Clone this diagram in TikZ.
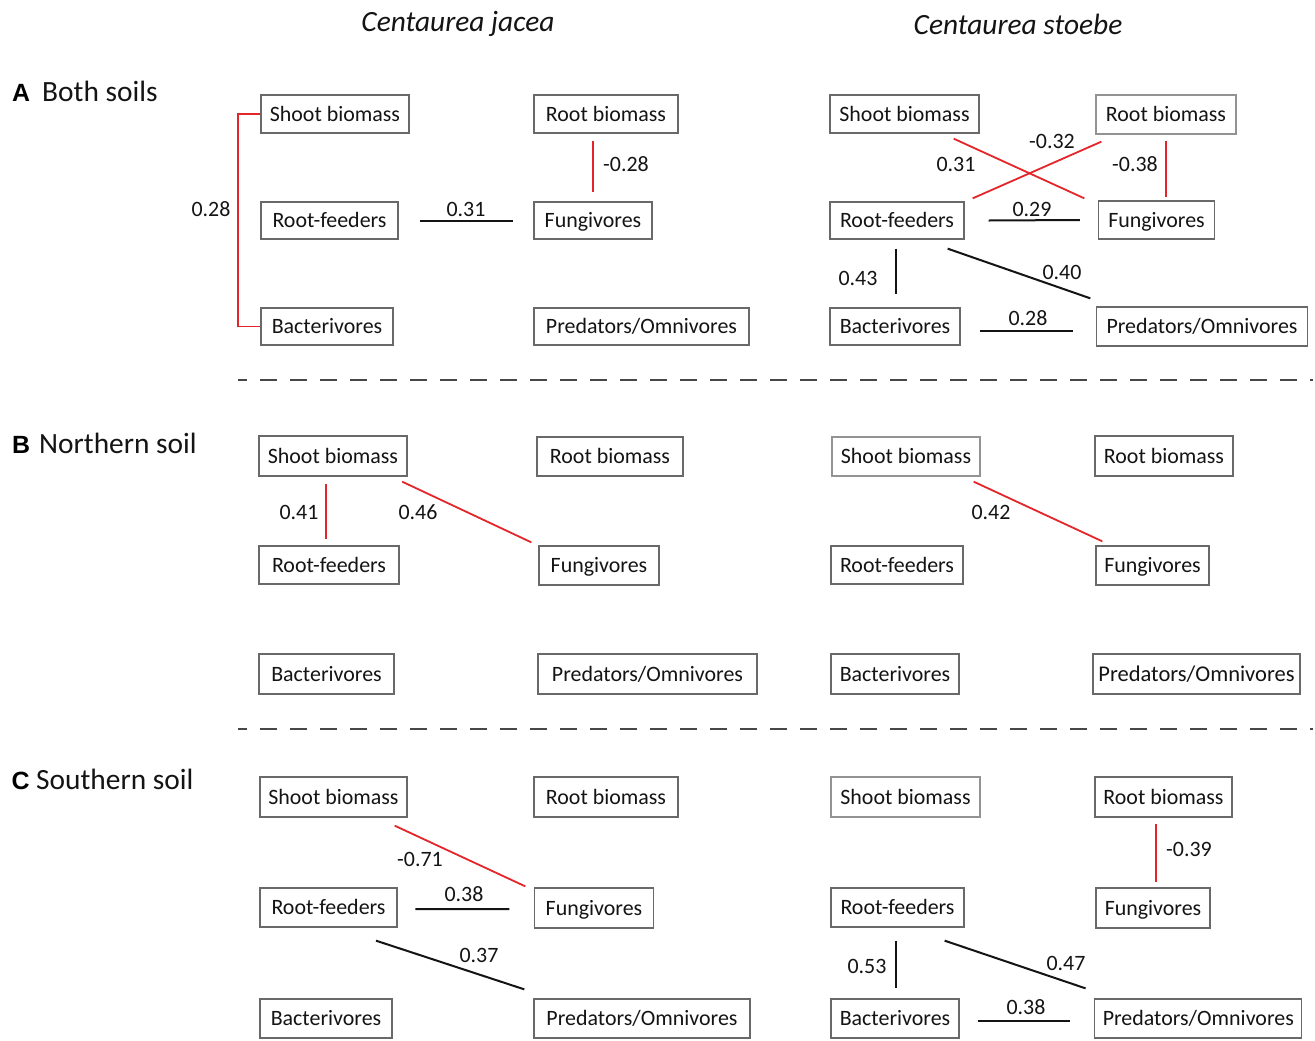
\documentclass[tikz,border=0pt]{standalone}
\usepackage{fontspec}
\setmainfont{Carlito}
\newfontfamily\arialf{Liberation Sans}
\usetikzlibrary{calc}
\definecolor{lred}{RGB}{228,38,42}
\definecolor{boxgray}{RGB}{105,105,105}
\definecolor{txt}{RGB}{20,20,20}
\tikzset{
  box/.style={draw=boxgray, line width=1.3bp, fill=white, inner sep=0pt,
    font=\fontsize{22}{24}\selectfont, text=txt, text height=14.5bp, text depth=0bp},
  lightbox/.style={box, draw=boxgray!72},
  lbl/.style={inner sep=0pt, font=\fontsize{22}{24}\selectfont, text=txt},
  redline/.style={draw=lred, line width=1.8bp},
  blkline/.style={draw=black!92, line width=2bp},
  hdr/.style={inner sep=0pt, font=\fontsize{29.5}{32}\selectfont\itshape, text=txt},
  plet/.style={inner sep=0pt, font=\fontsize{25}{28}\arialf\bfseries, text=black, anchor=base},
  ptit/.style={inner sep=0pt, font=\fontsize{29.5}{31}\selectfont, text=txt, anchor=base west},
  sep/.style={draw=black!72, line width=1.8bp, dash pattern=on 17bp off 13bp, dash phase=8bp}
}
\newcommand\mybox[7][box]{\node[#1, minimum width=#5bp, minimum height=#6bp] (#2) at (#3,#4) {#7};}
\newcommand\mylbl[4]{\node[lbl] (#1) at (#2,#3) {#4};}
\begin{document}
\begin{tikzpicture}[x=1bp,y=-1bp]
\useasboundingbox[fill=white] (0,0) rectangle (1315,1040);

% headers
\node[hdr] (h1) at (458,24) {Centaurea jacea};
\node[hdr] (h2) at (1018,24) {Centaurea stoebe};

% panel titles
\node[plet] (pA) at (21,101) {A};
\node[ptit] (tA) at (42,101) {Both soils};
\node[plet] (pB) at (21,453) {B};
\node[ptit] (tB) at (39,453) {Northern soil};
\node[plet] (pC) at (20.5,789) {C};
\node[ptit] (tC) at (36,789) {Southern soil};

% separators
\coordinate (s1a) at (238,380); \coordinate (s1b) at (1313,380);
\coordinate (s2a) at (238,729); \coordinate (s2b) at (1313,729);
\draw[sep] (s1a) -- (s1b);
\draw[sep] (s2a) -- (s2b);

%================ Panel A
\mybox{aLs}{335}{114}{148}{38}{Shoot biomass}
\mybox{aLr}{606}{114}{144}{38}{Root biomass}
\mybox{aLf}{329.5}{220.5}{137}{37}{Root-feeders}
\mybox{aLg}{593}{220.5}{118}{37}{Fungivores}
\mybox{aLb}{327}{326.5}{132}{37}{Bacterivores}
\mybox{aLp}{641.5}{326.5}{215}{37}{Predators/Omnivores}
\mybox{aRs}{904.5}{114}{149}{38}{Shoot biomass}
\mybox[lightbox]{aRr}{1166}{114.5}{140}{39}{Root biomass}
\mybox{aRf}{897}{220.5}{134}{37}{Root-feeders}
\mybox{aRg}{1156.5}{220}{116}{38}{Fungivores}
\mybox{aRb}{895}{326.5}{130}{37}{Bacterivores}
\mybox{aRp}{1202}{326.5}{211}{39}{Predators/Omnivores}

\draw[redline] (aLs.west) -- ++(-22,0) |- (aLb.west);
\mylbl{la1}{211}{209}{0.28}
\draw[blkline] ($(aLf.east)+(21,0)$) -- ($(aLg.west)+(-20,0)$);
\mylbl{la2}{466}{209}{0.31}
\draw[redline] ($(aLr.south -| aLg.north)+(0,7)$) -- ($(aLg.north)+(0,-9)$);
\mylbl{la3}{626}{164}{-0.28}

\draw[redline] ($(aRs.south east)+(-26,5)$) -- ($(aRg.north west)+(-13.5,-2)$);
\draw[redline] ($(aRr.south west)+(6,7)$) -- ($(aRf.north east)+(8,-3)$);
\draw[redline] ($(aRr.south)+(0,6)$) -- ($(aRg.north -| aRr.south)+(0,-3)$);
\draw[blkline] ($(aRf.east)+(24,0)$) -- ($(aRg.west)+(-18,0)$);
\draw[blkline] ($(aRf.south)+(-1,9)$) -- ($(aRb.north -| aRf.south)+(-1,-13)$);
\draw[blkline] ($(aRf.south east)+(-17,9)$) -- ($(aRp.north west)+(-5.5,-8)$);
\draw[blkline] ($(aRb.east)+(19,4.5)$) -- ($(aRp.west)+(-22.5,4.5)$);
\mylbl{la4}{956}{164}{0.31}
\mylbl{la5}{1052}{141}{-0.32}
\mylbl{la6}{1135}{164}{-0.38}
\mylbl{la7}{1032}{209}{0.29}
\mylbl{la8}{858}{278}{0.43}
\mylbl{la9}{1062}{272}{0.40}
\mylbl{la10}{1028}{318}{0.28}

%================ Panel B
\mybox{bLs}{333}{456}{148}{40}{Shoot biomass}
\mybox{bLr}{610}{456.5}{146}{39}{Root biomass}
\mybox{bLf}{329}{565}{140}{38}{Root-feeders}
\mybox{bLg}{599}{565.5}{120}{39}{Fungivores}
\mybox{bLb}{326.5}{674}{135}{40}{Bacterivores}
\mybox{bLp}{647.5}{674}{219}{40}{Predators/Omnivores}
\mybox[lightbox]{bRs}{906}{456.5}{148}{39}{Shoot biomass}
\mybox{bRr}{1164}{456}{138}{40}{Root biomass}
\mybox{bRf}{897}{565}{132}{38}{Root-feeders}
\mybox{bRg}{1152.5}{565.5}{113}{39}{Fungivores}
\mybox{bRb}{895}{674}{128}{40}{Bacterivores}
\mybox{bRp}{1196.5}{674}{207}{40}{\fontsize{22.6}{24}\selectfont Predators/Omnivores}

\draw[redline] ($(bLs.south)+(-7,7)$) -- ($(bLf.north)+(-3,-6)$);
\draw[redline] ($(bLs.south east)+(-5.5,5)$) -- ($(bLg.north west)+(-7,-3)$);
\mylbl{lb1}{299}{512}{0.41}
\mylbl{lb2}{418}{512}{0.46}
\draw[redline] ($(bRs.south east)+(-7,5)$) -- ($(bRg.north west)+(7,-4)$);
\mylbl{lb3}{991}{512}{0.42}

%================ Panel C
\mybox{cLs}{333.5}{797}{147}{40}{Shoot biomass}
\mybox{cLr}{606}{797}{144}{40}{Root biomass}
\mybox{cLf}{328.5}{907.5}{137}{39}{Root-feeders}
\mybox{cLg}{594}{908}{119}{40}{Fungivores}
\mybox{cLb}{326}{1018.5}{132}{39}{Bacterivores}
\mybox{cLp}{642}{1018.5}{216}{39}{Predators/Omnivores}
\mybox[lightbox]{cRs}{905.5}{797}{149}{40}{Shoot biomass}
\mybox{cRr}{1163.5}{797}{137}{40}{Root biomass}
\mybox{cRf}{897.5}{907.5}{133}{39}{Root-feeders}
\mybox{cRg}{1153}{908}{114}{40}{Fungivores}
\mybox{cRb}{895}{1018.5}{128}{39}{Bacterivores}
\mybox{cRp}{1198.3}{1018.5}{207}{39}{Predators/Omnivores}

\draw[redline] ($(cLs.south east)+(-13,8)$) -- ($(cLg.north west)+(-8.5,-1)$);
\draw[blkline] ($(cLf.east)+(17.6,1.5)$) -- ($(cLg.west)+(-24.5,1)$);
\draw[blkline] ($(cLf.south)+(47.5,13)$) -- ($(cLp.north west)+(-9,-9)$);
\mylbl{lc1}{420}{859}{-0.71}
\mylbl{lc2}{464}{894}{0.38}
\mylbl{lc3}{479}{955}{0.37}

\draw[redline] ($(cRr.south)+(-7.5,6)$) -- ($(cRg.north)+(3,-5)$);
\draw[blkline] ($(cRf.south)+(-1.5,13)$) -- ($(cRb.north)+(1,-10)$);
\draw[blkline] ($(cRf.south east)+(-20,13)$) -- ($(cRp.north west)+(-8.6,-10)$);
\draw[blkline] ($(cRb.east)+(18,2.5)$) -- ($(cRp.west)+(-24.6,2.5)$);
\mylbl{lc4}{1189}{849}{-0.39}
\mylbl{lc5}{867}{966}{0.53}
\mylbl{lc6}{1066}{963}{0.47}
\mylbl{lc7}{1026}{1007}{0.38}
\end{tikzpicture}
\end{document}
